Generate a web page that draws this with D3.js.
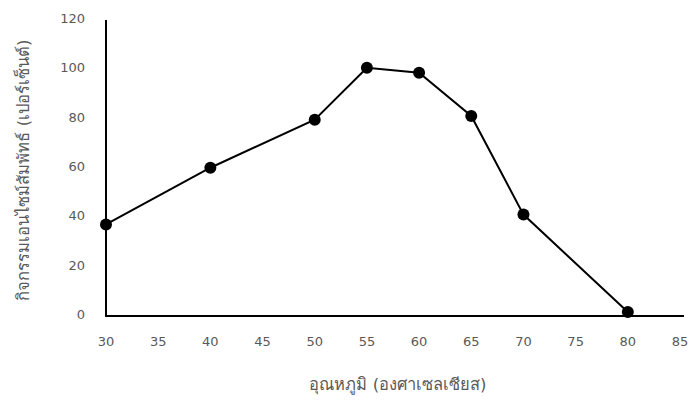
<!DOCTYPE html>
<html>
<head>
<meta charset="utf-8">
<script src="https://cdn.jsdelivr.net/npm/d3@7"></script>
<style>
  body { margin: 0; background: #fff; }
  text { font-family: Tahoma, "DejaVu Sans", "Noto Sans", sans-serif; }
</style>
</head>
<body>
<div id="chart"></div>
<script>
var temps = [30, 40, 50, 55, 60, 65, 70, 80];
var activity = [36.5, 59.5, 79, 100, 98, 80.5, 40.5, 1];
var xTicks = [30, 35, 40, 45, 50, 55, 60, 65, 70, 75, 80, 85];
var yTicks = [0, 20, 40, 60, 80, 100, 120];
var xTitle = "อุณหภูมิ (องศาเซลเซียส)";
var yTitle = "กิจกรรมเอนไซม์สัมพัทธ์ (เปอร์เซ็นต์)";

var width = 692, height = 406;

var svg = d3.select("#chart").append("svg")
  .attr("width", width)
  .attr("height", height);

var x = d3.scaleLinear().domain([30, 85]).range([106, 680]);
var y = d3.scaleLinear().domain([0, 120]).range([314.5, 18.5]);

// axis lines
svg.append("line")
  .attr("x1", x(30)).attr("x2", 684)
  .attr("y1", y(0) + 1.5).attr("y2", y(0) + 1.5)
  .attr("stroke", "#000").attr("stroke-width", 2);
svg.append("line")
  .attr("x1", x(30)).attr("x2", x(30))
  .attr("y1", 20).attr("y2", y(0) + 2.5)
  .attr("stroke", "#000").attr("stroke-width", 2);

// tick labels
svg.selectAll(".xt")
  .data(xTicks)
  .enter().append("text")
  .attr("class", "xt")
  .attr("x", function(d) { return x(d); })
  .attr("y", 346)
  .attr("text-anchor", "middle")
  .attr("font-size", 13)
  .attr("fill", "#595959")
  .text(function(d) { return d; });

svg.selectAll(".yt")
  .data(yTicks)
  .enter().append("text")
  .attr("class", "yt")
  .attr("x", 85)
  .attr("y", function(d) { return y(d) + 4.5; })
  .attr("text-anchor", "end")
  .attr("font-size", 13)
  .attr("fill", "#595959")
  .text(function(d) { return d; });

// titles
svg.append("text")
  .attr("x", 398)
  .attr("y", 390)
  .attr("text-anchor", "middle")
  .attr("font-size", 16.5)
  .attr("fill", "#595959")
  .text(xTitle);

svg.append("text")
  .attr("transform", "translate(29,170) rotate(-90)")
  .attr("text-anchor", "middle")
  .attr("font-size", 16.5)
  .attr("fill", "#595959")
  .text(yTitle);

var points = temps.map(function(t, i) { return [t, activity[i]]; });

var line = d3.line()
  .x(function(d) { return x(d[0]); })
  .y(function(d) { return y(d[1]); });

svg.append("path")
  .datum(points)
  .attr("d", line)
  .attr("fill", "none")
  .attr("stroke", "#000")
  .attr("stroke-width", 2);

svg.selectAll(".dot")
  .data(points)
  .enter().append("circle")
  .attr("class", "dot")
  .attr("cx", function(d) { return x(d[0]); })
  .attr("cy", function(d) { return y(d[1]); })
  .attr("r", 6)
  .attr("fill", "#000");
</script>
</body>
</html>
